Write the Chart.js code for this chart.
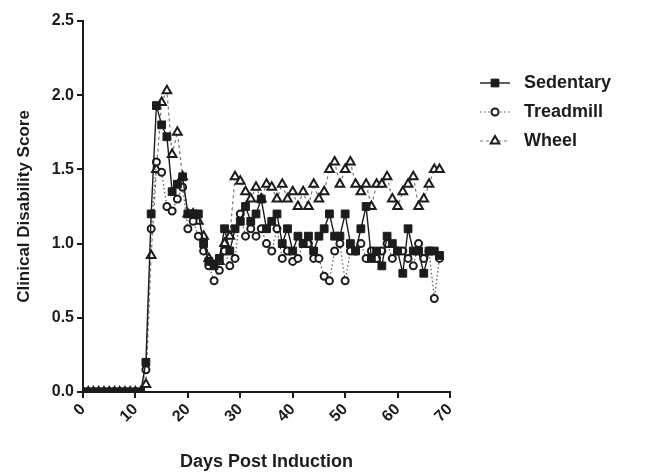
<!DOCTYPE html>
<html lang="en">
<head>
    <meta charset="UTF-8">
    <title>Clinical Disability Score</title>
    <script src="https://cdn.jsdelivr.net/npm/chart.js"></script>
    <style>
        html, body { margin: 0; padding: 0; background: #fff; }
        .chart-box { position: relative; width: 654px; height: 475px; }
    </style>
</head>
<body>
    <div class="chart-box">
        <canvas id="cdsChart" width="654" height="475"></canvas>
    </div>

    <script>
        // Days post induction (0..68)
        const days = Array.from({ length: 69 }, (_, i) => i);

        const sedentary = [
            0, 0, 0, 0, 0, 0, 0, 0, 0, 0, 0, 0,
            0.20, 1.20, 1.93, 1.80, 1.72, 1.35, 1.40, 1.45, 1.20, 1.20,
            1.20, 1.00, 0.88, 0.85, 0.90, 1.10, 0.95, 1.10, 1.15, 1.25,
            1.15, 1.20, 1.30, 1.10, 1.15, 1.20, 1.00, 1.10, 0.95, 1.05,
            1.00, 1.05, 0.95, 1.05, 1.10, 1.20, 1.05, 1.05, 1.20, 1.00,
            0.95, 1.10, 1.25, 0.90, 0.95, 0.85, 1.05, 1.00, 0.95, 0.80,
            1.10, 0.95, 0.95, 0.80, 0.95, 0.95, 0.92
        ];

        const treadmill = [
            0, 0, 0, 0, 0, 0, 0, 0, 0, 0, 0, 0,
            0.15, 1.10, 1.55, 1.48, 1.25, 1.22, 1.30, 1.38, 1.10, 1.15,
            1.05, 0.95, 0.85, 0.75, 0.82, 0.95, 0.85, 0.90, 1.20, 1.05,
            1.10, 1.05, 1.10, 1.00, 0.95, 1.10, 0.90, 0.95, 0.88, 0.90,
            1.00, 1.00, 0.90, 0.90, 0.78, 0.75, 0.95, 1.00, 0.75, 0.95,
            0.95, 1.00, 0.90, 0.95, 0.90, 0.95, 1.00, 0.90, 0.95, 0.95,
            0.90, 0.85, 1.00, 0.90, 0.95, 0.63, 0.90
        ];

        const wheel = [
            0, 0, 0, 0, 0, 0, 0, 0, 0, 0, 0, 0,
            0.05, 0.92, 1.50, 1.95, 2.03, 1.60, 1.75, 1.45, 1.20, 1.20,
            1.15, 1.05, 0.90, 0.85, 0.88, 1.00, 1.05, 1.45, 1.42, 1.35,
            1.30, 1.38, 1.30, 1.40, 1.38, 1.30, 1.40, 1.30, 1.35, 1.25,
            1.35, 1.25, 1.40, 1.30, 1.35, 1.50, 1.55, 1.40, 1.50, 1.55,
            1.40, 1.35, 1.40, 1.25, 1.40, 1.40, 1.45, 1.30, 1.25, 1.35,
            1.40, 1.45, 1.25, 1.30, 1.40, 1.50, 1.50
        ];

        const xTicks = [0, 10, 20, 30, 40, 50, 60, 70];
        const yTicks = [0, 0.5, 1.0, 1.5, 2.0, 2.5];

        const ink = '#1c1c1c';
        const boldFont = { family: 'Liberation Sans, Arial, sans-serif', weight: 'bold' };

        // Legend drawn on the canvas, to the right of the plot
        const sideLegend = {
            id: 'sideLegend',
            afterDraw(chart) {
                const ctx = chart.ctx;
                const rows = [
                    { label: 'Sedentary', y: 83, ds: 0 },
                    { label: 'Treadmill', y: 112, ds: 1 },
                    { label: 'Wheel', y: 141, ds: 2 }
                ];
                ctx.save();
                rows.forEach(r => {
                    const d = chart.data.datasets[r.ds];
                    ctx.strokeStyle = d.borderColor;
                    ctx.lineWidth = d.borderWidth;
                    ctx.setLineDash(d.borderDash || []);
                    ctx.beginPath();
                    ctx.moveTo(480, r.y);
                    ctx.lineTo(510, r.y);
                    ctx.stroke();
                    ctx.setLineDash([]);
                    ctx.fillStyle = d.pointBackgroundColor;
                    ctx.strokeStyle = d.pointBorderColor;
                    ctx.lineWidth = d.pointBorderWidth;
                    Chart.helpers.drawPoint(ctx, {
                        pointStyle: d.pointStyle,
                        radius: d.pointRadius,
                        borderWidth: d.pointBorderWidth
                    }, 495, r.y);
                    ctx.fillStyle = ink;
                    ctx.font = 'bold 18px Liberation Sans, Arial, sans-serif';
                    ctx.textBaseline = 'middle';
                    ctx.fillText(r.label, 524, r.y);
                });
                ctx.restore();
            }
        };

        new Chart(document.getElementById('cdsChart'), {
            type: 'line',
            data: {
                labels: days,
                datasets: [{
                    label: 'Sedentary',
                    data: sedentary,
                    borderColor: ink,
                    borderWidth: 1.4,
                    pointStyle: 'rect',
                    pointRadius: 5.5,
                    pointBorderWidth: 1,
                    pointBackgroundColor: ink,
                    pointBorderColor: ink,
                    tension: 0
                },
                {
                    label: 'Treadmill',
                    data: treadmill,
                    borderColor: '#555',
                    borderWidth: 1.2,
                    borderDash: [1.5, 2.5],
                    pointStyle: 'circle',
                    pointRadius: 3.5,
                    pointBorderWidth: 2,
                    pointBackgroundColor: '#fff',
                    pointBorderColor: ink,
                    tension: 0
                },
                {
                    label: 'Wheel',
                    data: wheel,
                    borderColor: '#777',
                    borderWidth: 1.2,
                    borderDash: [3, 3],
                    pointStyle: 'triangle',
                    pointRadius: 5,
                    pointBorderWidth: 2,
                    pointBackgroundColor: '#fff',
                    pointBorderColor: ink,
                    tension: 0
                }]
            },
            options: {
                responsive: false,
                animation: false,
                layout: { padding: { top: 21, right: 204, left: 10, bottom: 0 } },
                plugins: {
                    legend: { display: false },
                    tooltip: { enabled: false }
                },
                scales: {
                    x: {
                        type: 'linear',
                        min: 0,
                        max: 70,
                        afterBuildTicks: s => { s.ticks = xTicks.map(v => ({ value: v })); },
                        afterFit: s => { s.height = 83; },
                        border: { color: ink, width: 2 },
                        grid: { drawOnChartArea: false, color: ink, lineWidth: 2, tickLength: 6 },
                        ticks: {
                            color: ink,
                            font: { ...boldFont, size: 16 },
                            minRotation: 45,
                            maxRotation: 45,
                            padding: 2
                        },
                        title: {
                            display: true,
                            text: 'Days Post Induction',
                            color: ink,
                            font: { ...boldFont, size: 18 },
                            padding: { top: 6, bottom: 2 }
                        }
                    },
                    y: {
                        min: 0,
                        max: 2.5,
                        afterBuildTicks: s => { s.ticks = yTicks.map(v => ({ value: v })); },
                        afterFit: s => { s.width = 73; },
                        border: { color: ink, width: 2 },
                        grid: { drawOnChartArea: false, color: ink, lineWidth: 2, tickLength: 6 },
                        ticks: {
                            color: ink,
                            font: { ...boldFont, size: 16 },
                            padding: 3,
                            callback: v => v.toFixed(1)
                        },
                        title: {
                            display: true,
                            text: 'Clinical Disability Score',
                            color: ink,
                            font: { ...boldFont, size: 17 },
                            padding: { bottom: 2 }
                        }
                    }
                }
            },
            plugins: [sideLegend]
        });
    </script>
</body>
</html>
